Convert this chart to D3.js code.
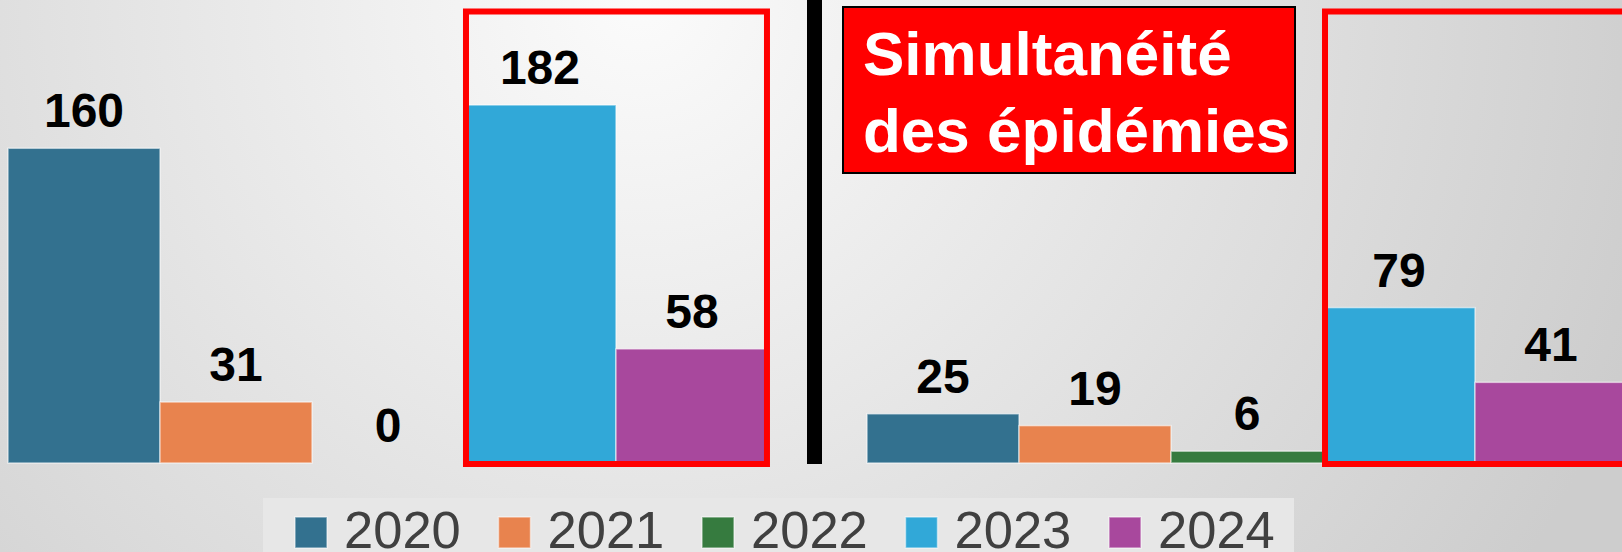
<!DOCTYPE html>
<html>
<head>
<meta charset="utf-8">
<script src="https://cdn.jsdelivr.net/npm/d3@7"></script>
<style>
  html, body { margin: 0; padding: 0; overflow: hidden; }
  svg { display: block; font-family: "Liberation Sans", Arial, sans-serif; }
</style>
</head>
<body>
<svg id="chart"></svg>
<script>
// data
const groups = ["Période 1", "Période 2"];
const years = ["2020", "2021", "2022", "2023", "2024"];
const valuesPeriode1 = [160, 31, 0, 182, 58];
const valuesPeriode2 = [25, 19, 6, 79, 41];
const colors = ["#33718f", "#e8834e", "#367b3f", "#31a8d8", "#a8489d"];
const highlighted = ["2023", "2024"];
const titleLines = ["Simultanéité", "des épidémies"];

const width = 1622;
const height = 552;

const svg = d3.select("#chart").attr("width", width).attr("height", height);

// background
const defs = svg.append("defs");
const grad = defs.append("radialGradient")
    .attr("id", "bg")
    .attr("gradientUnits", "userSpaceOnUse")
    .attr("cx", 640).attr("cy", 0).attr("r", 1050);
grad.append("stop").attr("offset", "0%").attr("stop-color", "#fbfbfb");
grad.append("stop").attr("offset", "100%").attr("stop-color", "#cdcdcd");
svg.append("rect").attr("width", width).attr("height", height).attr("fill", "url(#bg)");

// scales
const x0 = d3.scaleBand().domain(groups).range([8, 1627]).paddingInner(0.1153);
const x1 = d3.scaleBand().domain(years).range([0, x0.bandwidth()]);
const y = d3.scaleLinear().domain([0, 182]).range([463, 105]);
const color = d3.scaleOrdinal().domain(years).range(colors);

const rows = groups.map((g, i) => ({
    group: g,
    values: (i === 0 ? valuesPeriode1 : valuesPeriode2).map((v, j) => ({ year: years[j], value: v }))
}));

// bars
const g = svg.selectAll(".grp").data(rows).join("g")
    .attr("class", "grp")
    .attr("transform", d => `translate(${x0(d.group)},0)`);

g.selectAll("rect").data(d => d.values).join("rect")
    .attr("x", d => x1(d.year))
    .attr("y", d => y(d.value))
    .attr("width", x1.bandwidth())
    .attr("height", d => y(0) - y(d.value))
    .attr("fill", d => color(d.year))
    .attr("stroke", "rgba(255,255,255,0.55)")
    .attr("stroke-width", 1.5);

g.selectAll("text").data(d => d.values).join("text")
    .attr("x", d => x1(d.year) + x1.bandwidth() / 2)
    .attr("y", d => y(d.value) - 21)
    .attr("text-anchor", "middle")
    .attr("font-size", 48)
    .attr("font-weight", "bold")
    .attr("fill", "#000")
    .text(d => d.value);

// red frames round 2023-2024
g.append("rect")
    .attr("x", x1(highlighted[0]) + 2)
    .attr("y", 11.5)
    .attr("width", x1(highlighted[1]) + x1.bandwidth() - 1 - (x1(highlighted[0]) + 2))
    .attr("height", y(0) + 1 - 11.5)
    .attr("fill", "none")
    .attr("stroke", "#ff0000")
    .attr("stroke-width", 6);

// separator
svg.append("rect")
    .attr("x", 807).attr("y", 0)
    .attr("width", 15).attr("height", y(0) + 1)
    .attr("fill", "#000");

// title box
svg.append("rect")
    .attr("x", 843).attr("y", 7)
    .attr("width", 452).attr("height", 166)
    .attr("fill", "#ff0000")
    .attr("stroke", "#000")
    .attr("stroke-width", 2);

svg.append("g").selectAll("text").data(titleLines).join("text")
    .attr("x", 863)
    .attr("y", (d, i) => 75 + i * 77)
    .attr("font-size", 62)
    .attr("font-weight", "bold")
    .attr("fill", "#fff")
    .text(d => d);

// legend
svg.append("rect")
    .attr("x", 263).attr("y", 498)
    .attr("width", 1031).attr("height", 60)
    .attr("fill", "#e7e7e7");

const legend = svg.append("g").selectAll("g").data(years).join("g")
    .attr("transform", (d, i) => `translate(${295 + i * 203.5},0)`);

legend.append("rect")
    .attr("x", 0).attr("y", 517)
    .attr("width", 32).attr("height", 31)
    .attr("fill", d => color(d))
    .attr("stroke", "rgba(255,255,255,0.5)")
    .attr("stroke-width", 1.5);

legend.append("text")
    .attr("x", 49).attr("y", 548)
    .attr("font-size", 52.5)
    .attr("fill", "#404040")
    .text(d => d);
</script>
</body>
</html>
